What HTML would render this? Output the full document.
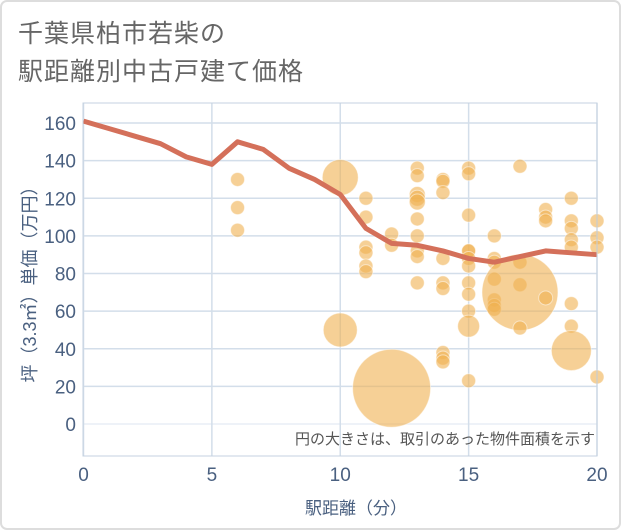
<!DOCTYPE html>
<html><head><meta charset="utf-8"><style>
body{margin:0;background:#fff;}
svg{display:block;font-family:"Liberation Sans","Noto Sans CJK JP",sans-serif;}
</style></head><body>
<svg id="chart" width="621" height="530" viewBox="0 0 621 530">
<rect x="1" y="1" width="619" height="528" rx="6" fill="#fff" stroke="#ddd" stroke-width="2"/>
<text x="18" y="42" font-size="25" letter-spacing="1" fill="#666">千葉県柏市若柴の</text>
<text x="18" y="80" font-size="25" letter-spacing="1" fill="#666">駅距離別中古戸建て価格</text>
<g id="grid"></g>
<g id="bubbles"></g>
<g id="line"></g>
<rect x="83" y="103" width="514" height="353" fill="none" stroke="#c5d2e0" stroke-width="1"/>
<g id="ticks"></g>
<text x="356" y="514" font-size="17" fill="#4a6080" text-anchor="middle">駅距離（分）</text>
<text transform="translate(36,280) rotate(-90)" font-size="18" fill="#4a6080" text-anchor="middle">坪（3.3㎡）単価（万円）</text>
<text x="595" y="444" font-size="15" fill="#555" text-anchor="end">円の大きさは、取引のあった物件面積を示す</text>
</svg>
<script>
const xTicks=[0,5,10,15,20];
const yTicks=[0,20,40,60,80,100,120,140,160];
const lineX=[0,1,2,3,4,5,6,7,8,9,10,11,12,13,14,15,16,17,18,19,20];
const lineY=[161,157,153,149,142,138,150,146,136,130,122,104,96,95,92,88,86,89,92,91,90];
const bubbleX=[6,6,6,10,10,11,11,11,11,11,11,12,12,12,13,13,13,13,13,13,13,13,13,13,14,14,14,14,14,14,14,14,14,15,15,15,15,15,15,15,15,15,15,15,15,16,16,16,16,16,16,16,17,17,17,17,17,18,18,18,18,19,19,19,19,19,19,19,19,20,20,20,20];
const bubbleY=[130,115,103,131,50,120,110,94,91,84,81,19,101,95,136,132,122,120,118,109,100,92,89,75,130,129,123,88,75,72,38,35,33,136,133,111,92,92,88,84,75,69,60,52,23,100,88,86,77,66,63,61,137,86,74,70,51,114,110,108,67,120,108,104,98,94,64,52,39,108,99,94,25];
const bubbleR=[7,7,7,18,17,7,7,7,7,7,7,39,7,7,7,7,8,8,8,7,7,7,7,7,7,7,7,7,7,7,7,7,7,7,7,7,7,7,7,7,7,7,7,11,7,7,7,7,7,7,7,7,7,7,7,38,7,7,7,7,7,7,7,7,7,7,7,7,20,7,7,7,7];
const NS='http://www.w3.org/2000/svg';
const X0=83.5,X1=597,Y0=424,Y160=123;
function sx(v){return X0+(X1-X0)*v/20;}
function sy(v){return Y0-(Y0-Y160)*v/160;}
function mk(t,a,p){const e=document.createElementNS(NS,t);for(const k in a)e.setAttribute(k,a[k]);p.appendChild(e);return e;}
const grid=document.getElementById('grid'),ticks=document.getElementById('ticks');
yTicks.forEach(v=>{
 const l=mk('line',{x1:83,x2:597,y1:sy(v),y2:sy(v),stroke:v===0?'#e8eef5':'#d3deea','stroke-width':1.5},grid);
 
 
 const t=mk('text',{x:76,y:sy(v)+7,'font-size':19,fill:'#4a6080','text-anchor':'end'},ticks);
 t.textContent=v;
 
 
});
xTicks.forEach(v=>{
 const l=mk('line',{x1:sx(v),x2:sx(v),y1:103,y2:456,stroke:'#d3deea','stroke-width':1.5},grid);
 
 
 const t=mk('text',{x:sx(v),y:481,'font-size':19,fill:'#4a6080','text-anchor':'middle'},ticks);
 t.textContent=v;
 
 
});
const bg=document.getElementById('bubbles');
bubbleX.forEach((v,i)=>{
 const c=mk('circle',{cx:sx(v),cy:sy(bubbleY[i]),r:bubbleR[i],fill:'#f0b050','fill-opacity':0.6,stroke:'#fff','stroke-opacity':0.5,'stroke-width':1},bg);
 
 
});
const pts=lineX.map((v,i)=>sx(v)+','+sy(lineY[i])).join(' ');
const pl=mk('polyline',{points:pts,fill:'none',stroke:'#d4705a','stroke-width':5,'stroke-linejoin':'round'},document.getElementById('line'));


</script>
</body></html>
